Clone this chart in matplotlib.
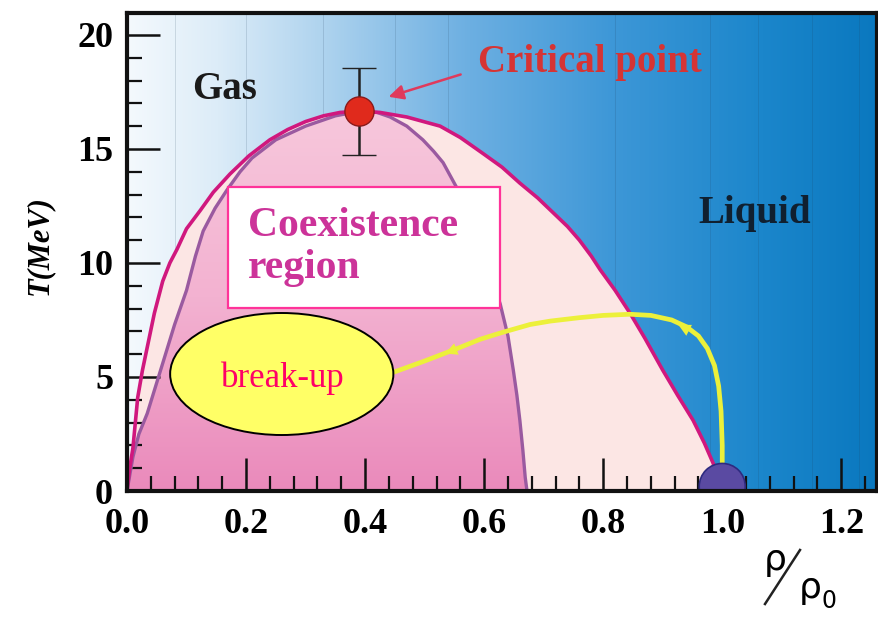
import numpy as np
import matplotlib.pyplot as plt
from matplotlib.colors import LinearSegmentedColormap
from matplotlib.patches import Ellipse, Rectangle, Polygon
from matplotlib.ticker import MultipleLocator, FormatStrFormatter

plt.rcParams['font.family'] = ['Liberation Serif', 'DejaVu Serif']
plt.rcParams['font.weight'] = 'bold'

# coexistence (binodal) boundary
binodal_rho = [0.0, 0.004, 0.01, 0.018, 0.026, 0.034, 0.046, 0.06, 0.072, 0.084,
               0.10, 0.123, 0.145, 0.173, 0.205, 0.24, 0.27, 0.30, 0.33, 0.358,
               0.39, 0.425, 0.47, 0.526, 0.56, 0.598, 0.63, 0.66, 0.69, 0.716,
               0.74, 0.76, 0.78, 0.795, 0.82, 0.845, 0.87, 0.90, 0.925, 0.951,
               0.97, 0.985, 0.995]
binodal_T = [0.0, 0.9, 1.9, 4.1, 5.3, 6.3, 7.8, 9.2, 10.0, 10.6,
             11.5, 12.3, 13.1, 13.9, 14.7, 15.4, 15.85, 16.2, 16.45, 16.6,
             16.65, 16.6, 16.4, 16.0, 15.5, 14.8, 14.2, 13.5, 12.85, 12.2,
             11.6, 11.0, 10.3, 9.7, 8.8, 7.8, 6.7, 5.3, 4.2, 3.1,
             2.1, 1.2, 0.0]

# spinodal (inner) curve
spinodal_rho = [0.0, 0.01, 0.02, 0.034, 0.06, 0.08, 0.10, 0.115, 0.128, 0.148,
                0.168, 0.19, 0.21, 0.25, 0.30, 0.35, 0.39, 0.42, 0.442, 0.47,
                0.497, 0.515, 0.531, 0.554, 0.575, 0.59, 0.605, 0.627, 0.64, 0.649,
                0.655, 0.66, 0.665, 0.669, 0.672]
spinodal_T = [0.0, 1.5, 2.5, 3.4, 5.6, 7.3, 8.8, 10.3, 11.4, 12.4,
              13.2, 14.0, 14.6, 15.4, 16.0, 16.45, 16.65, 16.6, 16.4, 16.0,
              15.4, 14.9, 14.4, 13.3, 12.2, 11.0, 9.9, 8.2, 6.8, 5.3,
              4.2, 3.1, 1.8, 0.6, 0.0]

# trajectory of the hot nucleus (yellow path)
path_rho = [1.0, 1.0, 0.998, 0.994, 0.987, 0.975, 0.96, 0.94, 0.915, 0.88,
            0.845, 0.80, 0.76, 0.711, 0.677, 0.63, 0.593, 0.555, 0.50, 0.447]
path_T = [0.5, 2.0, 3.5, 4.6, 5.5, 6.25, 6.8, 7.2, 7.5, 7.7,
          7.75, 7.7, 7.6, 7.45, 7.3, 6.95, 6.65, 6.25, 5.7, 5.2]

crit_rho, crit_T, crit_err = 0.39, 16.65, 1.9
nucleus_rho, nucleus_T = 1.0, 0.2

xmax, ymax = 1.26, 20.96

fig = plt.figure(figsize=(8.79, 6.17), dpi=100)
ax = fig.add_axes([127 / 879, 1 - 491 / 617, 750 / 879, 478 / 617])

# blue background, light at low density
bg_cmap = LinearSegmentedColormap.from_list(
    'bg', [(0.0, '#f4f9fd'), (0.12, '#dcecf8'), (0.25, '#b2d5ef'),
           (0.45, '#6eb0e2'), (0.65, '#3d97d7'), (0.85, '#1b86cb'), (1.0, '#0a78bf')])
ax.imshow(np.linspace(0, 1, 256).reshape(1, -1), extent=[0, xmax, 0, ymax],
          aspect='auto', cmap=bg_cmap, zorder=0)
for xv in [0.08, 0.2, 0.33, 0.45, 0.54, 0.82, 0.98, 1.06, 1.15, 1.23]:
    ax.axvline(xv, color='#20405a', lw=0.6, alpha=0.18, zorder=0.5)

# coexistence region fill
outer = Polygon(np.column_stack([binodal_rho, binodal_T]), closed=True,
                facecolor='#fce6e4', edgecolor='none', zorder=1)
ax.add_patch(outer)

inner = Polygon(np.column_stack([spinodal_rho, spinodal_T]), closed=True,
                facecolor='none', edgecolor='none', zorder=1.1)
ax.add_patch(inner)
pink_cmap = LinearSegmentedColormap.from_list('pk', ['#ea8abb', '#f3b2d1', '#f7c8dc'])
im = ax.imshow(np.linspace(0, 1, 256).reshape(-1, 1), extent=[0, 0.7, 0, 17],
               origin='lower', aspect='auto', cmap=pink_cmap, zorder=1.2)
im.set_clip_path(inner)

ax.plot(spinodal_rho, spinodal_T, color='#9a5aa0', lw=2.4, zorder=2,
        solid_joinstyle='round')
ax.plot(binodal_rho, binodal_T, color='#d0187e', lw=2.6, zorder=2.1,
        solid_joinstyle='round')

# yellow trajectory with arrows
ax.plot(path_rho, path_T, color='#ecf03a', lw=3.4, zorder=3,
        solid_capstyle='round', solid_joinstyle='round')
ax.annotate('', xy=(0.922, 7.35), xytext=(0.955, 6.9),
            arrowprops=dict(arrowstyle='-|>', color='#ecf03a', lw=0, mutation_scale=22), zorder=3)
ax.annotate('', xy=(0.53, 5.98), xytext=(0.57, 6.4),
            arrowprops=dict(arrowstyle='-|>', color='#ecf03a', lw=0, mutation_scale=22), zorder=3)

# nucleus at normal density
ax.add_patch(Ellipse((nucleus_rho, nucleus_T), 46 / 595, 46 / 22.8,
                     facecolor='#5a4aa2', edgecolor='#2e2a80', lw=1.2, zorder=3.5))

# critical point
ax.errorbar([crit_rho], [crit_T], yerr=[crit_err], fmt='o', color='#222222',
            ecolor='#222222', elinewidth=1.8, capsize=12, capthick=1.8,
            markersize=21, markerfacecolor='#e02a1c', markeredgecolor='#8a1a1a',
            markeredgewidth=1.0, zorder=4)
ax.annotate('', xy=(0.435, 17.25), xytext=(0.565, 18.3),
            arrowprops=dict(arrowstyle='-|>', color='#e03a5c', lw=1.8, mutation_scale=22), zorder=4)
ax.text(0.59, 18.8, 'Critical point', color='#d63434', fontsize=28, ha='left', va='center', zorder=5)

ax.text(0.164, 17.6, 'Gas', color='#1a1a1a', fontsize=28, ha='center', va='center', zorder=5)
ax.text(1.055, 12.15, 'Liquid', color='#102030', fontsize=28, ha='center', va='center', zorder=5)

# coexistence label box
ax.add_patch(Rectangle((0.17, 8.03), 0.457, 5.3, facecolor='white',
                       edgecolor='#ff3399', lw=1.6, zorder=5))
ax.text(0.203, 10.7, 'Coexistence\nregion', color='#cc3399', fontsize=30,
        ha='left', va='center', linespacing=1.15, zorder=6)

# break-up ellipse
ax.add_patch(Ellipse((0.26, 5.13), 0.375, 5.35, facecolor='#ffff66',
                     edgecolor='black', lw=1.4, zorder=6))
ax.text(0.262, 4.95, 'break-up', color='#ff0066', fontsize=25, fontweight='normal',
        ha='center', va='center', zorder=7)

ax.set_xlim(0, xmax)
ax.set_ylim(0, ymax)
ax.set_aspect('auto')
ax.xaxis.set_major_locator(MultipleLocator(0.2))
ax.xaxis.set_minor_locator(MultipleLocator(0.04))
ax.yaxis.set_major_locator(MultipleLocator(5))
ax.yaxis.set_minor_locator(MultipleLocator(1))
ax.xaxis.set_major_formatter(FormatStrFormatter('%.1f'))
ax.tick_params(which='both', direction='in', top=False, right=False, color='#111111', zorder=8)
ax.tick_params(which='major', length=24, width=1.8, labelsize=26)
ax.tick_params(axis='x', which='major', pad=12)
ax.tick_params(axis='y', which='major', pad=10)
ax.tick_params(which='minor', length=11, width=1.6)
for sp in ax.spines.values():
    sp.set_linewidth(3)
    sp.set_color('#111111')
    sp.set_zorder(9)

fig.text(40 / 879, 1 - 245 / 617, 'T(MeV)', rotation=90, fontsize=22, fontstyle='italic',
         ha='center', va='center')

# slanted rho / rho0 axis label
fig.text(775 / 879, 1 - 560 / 617, 'ρ', fontsize=26, fontweight='normal',
         family=['DejaVu Sans'], ha='center', va='center')
fig.add_artist(plt.Line2D([765 / 879, 800 / 879], [1 - 604 / 617, 1 - 550 / 617],
                          color='#222222', lw=1.8))
fig.text(810 / 879, 1 - 588 / 617, 'ρ', fontsize=26, fontweight='normal',
         family=['DejaVu Sans'], ha='center', va='center')
fig.text(829 / 879, 1 - 601 / 617, '0', fontsize=17, fontweight='normal',
         family=['DejaVu Sans'], ha='center', va='center')

fig.savefig('out.png', dpi=100)
